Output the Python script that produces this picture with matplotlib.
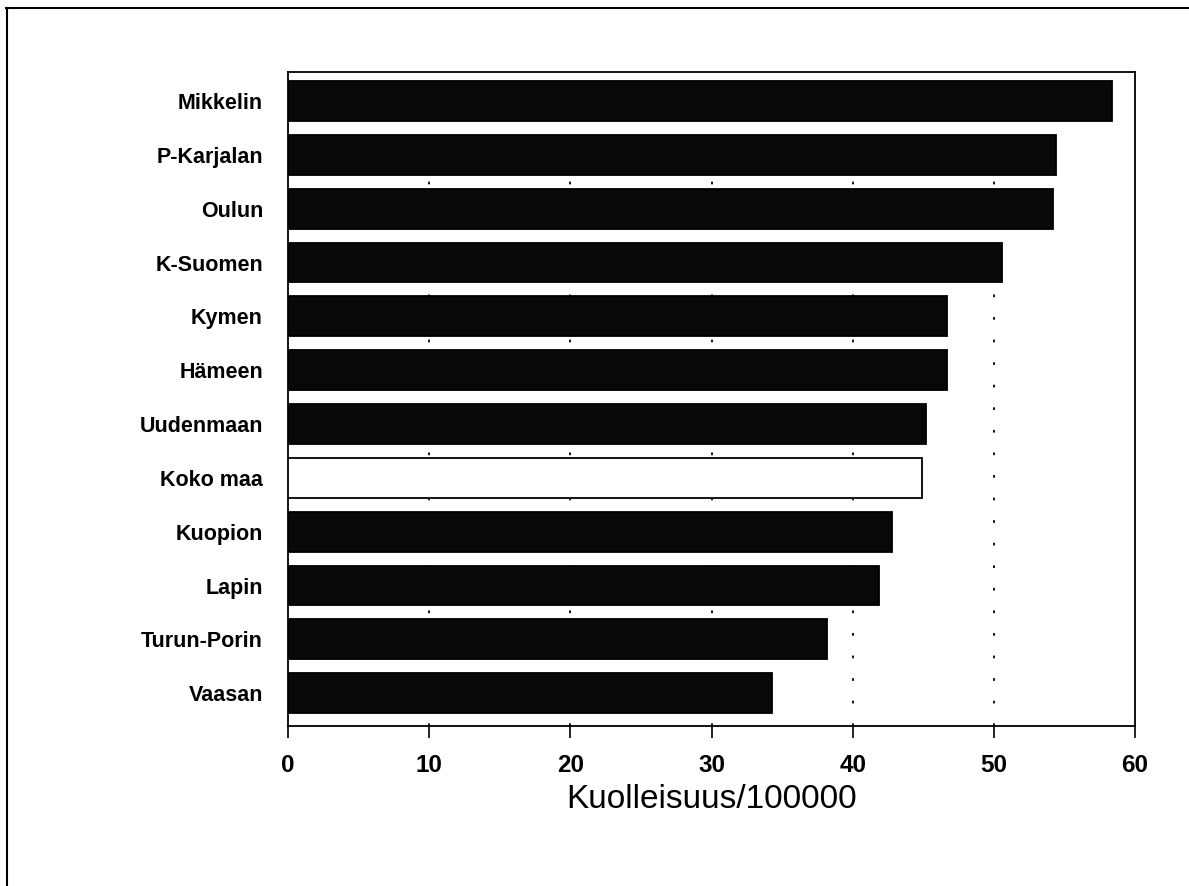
import matplotlib
matplotlib.use("Agg")
import matplotlib.pyplot as plt
from matplotlib.lines import Line2D

categories = ["Mikkelin", "P-Karjalan", "Oulun", "K-Suomen", "Kymen", "Hämeen",
              "Uudenmaan", "Koko maa", "Kuopion", "Lapin", "Turun-Porin", "Vaasan"]
values = [58.4, 54.4, 54.2, 50.6, 46.7, 46.7, 45.2, 44.9, 42.8, 41.9, 38.2, 34.3]
highlight = "Koko maa"
xticks = [0, 10, 20, 30, 40, 50, 60]
xlabel = "Kuolleisuus/100000"

plt.rcParams['font.family'] = ['Liberation Sans', 'DejaVu Sans']

fig = plt.figure(figsize=(11.89, 8.86), dpi=100)
ax = fig.add_axes([288/1189, 1-726/886, (1135-288)/1189, (726-72)/886])

ypos = list(range(len(categories)))
colors = ["white" if c == highlight else "#080808" for c in categories]
ax.barh(ypos, values, height=0.74, color=colors, edgecolor="black",
        linewidth=1.3, zorder=3)

for x in xticks[1:-1]:
    ax.axvline(x, color="black", linestyle=(0, (1.5, 11)), linewidth=1.3, zorder=1)

ax.set_xlim(0, 60)
ax.set_ylim(len(categories) - 1 + 0.61, -0.54)
ax.set_yticks(ypos)
ax.set_yticklabels(categories, fontsize=15.5, fontweight="bold")
ax.set_xticks(xticks)
ax.set_xticklabels([str(t) for t in xticks], fontsize=17.5, fontweight="bold")
ax.tick_params(axis="y", length=0, pad=18)
ax.tick_params(axis="x", direction="out", length=8.5, width=1.2, pad=12)
ax.set_xlabel(xlabel, fontsize=24, labelpad=5)
for s in ax.spines.values():
    s.set_linewidth(1.3)

# outer frame (top and left only)
fig.add_artist(Line2D([6/1189, 1.0], [1-8/886, 1-8/886], transform=fig.transFigure,
                      color="black", linewidth=1.5))
fig.add_artist(Line2D([7/1189, 7/1189], [1-8/886, 0.0], transform=fig.transFigure,
                      color="black", linewidth=1.5))

fig.savefig("out.png", dpi=100, facecolor="white")
